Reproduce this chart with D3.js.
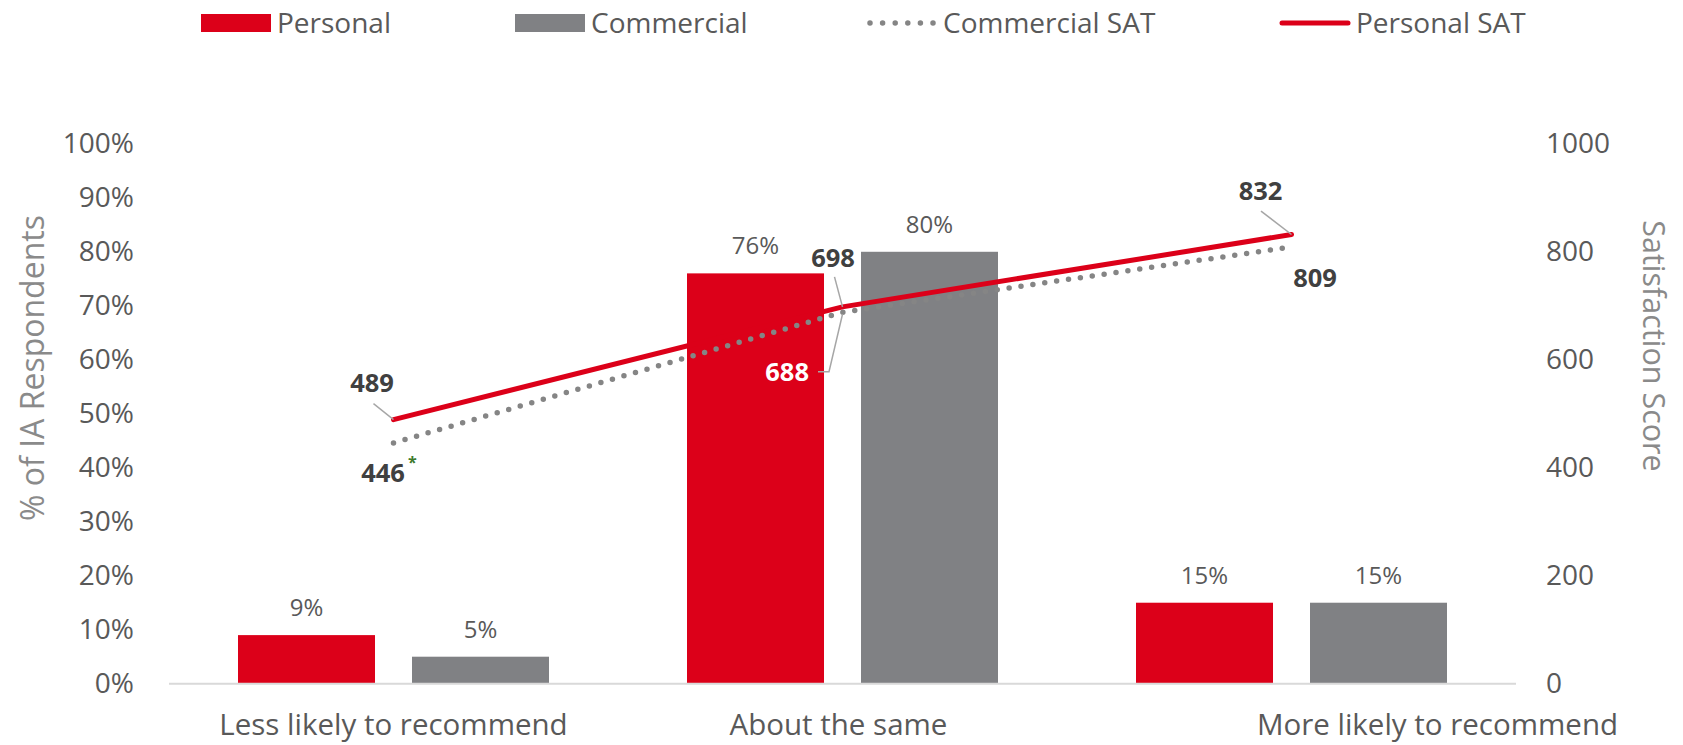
<!DOCTYPE html>
<html>
<head>
<meta charset="utf-8">
<script src="https://cdn.jsdelivr.net/npm/d3@7"></script>
<style>
  body { margin: 0; background: #fff; }
  text { font-family: "Open Sans", sans-serif; }
</style>
</head>
<body>
<svg id="chart" width="1683" height="745"></svg>
<script>
// ---- data ----
const categories = ["Less likely to recommend", "About the same", "More likely to recommend"];
const barSeries = ["Personal", "Commercial"];
const personalPct = [9, 76, 15];
const commercialPct = [5, 80, 15];
const personalSat = [489, 698, 832];
const commercialSat = [446, 688, 809];
const pctTicks = [0, 10, 20, 30, 40, 50, 60, 70, 80, 90, 100];
const satTicks = [0, 200, 400, 600, 800, 1000];

// ---- layout ----
const plot = { left: 169, right: 1516, top: 143.8, bottom: 683.7 };
const RED = "#dc0019", GRAY = "#808184", DOT = "#858585";
const TEXT = "#595959", DARK = "#404040", TITLE = "#8a8a8a";

const svg = d3.select("#chart");

const x0 = d3.scaleBand().domain(categories).range([plot.left, plot.right]);
const x1 = d3.scaleBand().domain(barSeries).range([0, x0.bandwidth()])
  .paddingInner(0.2126).paddingOuter(0.3966);
const yPct = d3.scaleLinear().domain([0, 100]).range([plot.bottom, plot.top]);
const ySat = d3.scaleLinear().domain([0, 1000]).range([plot.bottom, plot.top]);
const colors = d3.scaleOrdinal().domain(barSeries).range([RED, GRAY]);

const barData = categories.map((c, i) => ({
  cat: c,
  values: [
    { s: "Personal", v: personalPct[i] },
    { s: "Commercial", v: commercialPct[i] }
  ]
}));

// ---- axes ----
const leftAxis = svg.append("g")
  .attr("transform", `translate(${plot.left},0)`)
  .call(d3.axisLeft(yPct).tickValues(pctTicks).tickFormat(d => d + "%").tickSize(0).tickPadding(35));
leftAxis.select(".domain").remove();
leftAxis.selectAll("text").attr("font-size", 28).attr("fill", TEXT).style("font-family", '"Open Sans", sans-serif');

const rightAxis = svg.append("g")
  .attr("transform", `translate(${plot.right},0)`)
  .call(d3.axisRight(ySat).tickValues(satTicks).tickFormat(d3.format("d")).tickSize(0).tickPadding(30));
rightAxis.select(".domain").remove();
rightAxis.selectAll("text").attr("font-size", 28).attr("fill", TEXT).style("font-family", '"Open Sans", sans-serif');

// axis titles
svg.append("text")
  .attr("transform", "translate(44,368) rotate(-90)")
  .attr("text-anchor", "middle")
  .attr("font-size", 32).attr("fill", TITLE)
  .text("% of IA Respondents");

svg.append("text")
  .attr("transform", "translate(1643,346) rotate(90)")
  .attr("text-anchor", "middle")
  .attr("font-size", 30.5).attr("fill", TITLE)
  .text("Satisfaction Score");

// ---- bars ----
const groups = svg.append("g").selectAll("g")
  .data(barData).join("g")
  .attr("transform", d => `translate(${x0(d.cat)},0)`);

groups.selectAll("rect")
  .data(d => d.values).join("rect")
  .attr("x", d => x1(d.s))
  .attr("width", x1.bandwidth())
  .attr("y", d => yPct(d.v))
  .attr("height", d => yPct(0) - yPct(d.v))
  .attr("fill", d => colors(d.s));

groups.selectAll("text.val")
  .data(d => d.values).join("text")
  .attr("class", "val")
  .attr("x", d => x1(d.s) + x1.bandwidth() / 2)
  .attr("y", d => yPct(d.v) - 19)
  .attr("text-anchor", "middle")
  .attr("font-size", 24).attr("fill", TEXT)
  .text(d => d.v + "%");

// baseline
svg.append("line")
  .attr("x1", plot.left).attr("x2", plot.right)
  .attr("y1", yPct(0)).attr("y2", yPct(0))
  .attr("stroke", "#d9d9d9").attr("stroke-width", 2);

// category labels (last one sits shifted right)
const catShift = [0, -4, 146];
svg.append("g").selectAll("text")
  .data(categories).join("text")
  .attr("x", (d, i) => x0(d) + x0.bandwidth() / 2 + catShift[i])
  .attr("y", 735)
  .attr("text-anchor", "middle")
  .attr("font-size", 29.5).attr("fill", TEXT)
  .text(d => d);

// ---- satisfaction lines ----
const cx = d => x0(d) + x0.bandwidth() / 2;
const line = d3.line().x(d => cx(d.cat)).y(d => ySat(d.v));
const comm = categories.map((c, i) => ({ cat: c, v: commercialSat[i] }));
const pers = categories.map((c, i) => ({ cat: c, v: personalSat[i] }));

svg.append("path").datum(comm)
  .attr("d", line).attr("fill", "none")
  .attr("stroke", DOT).attr("stroke-width", 5.5)
  .attr("stroke-linecap", "round").attr("stroke-dasharray", "0 12");

svg.append("path").datum(pers)
  .attr("d", line).attr("fill", "none")
  .attr("stroke", RED).attr("stroke-width", 5)
  .attr("stroke-linecap", "round").attr("stroke-linejoin", "round");

// ---- SAT data labels with leader lines ----
const persLabel = [
  { dx: -21.5, dy: -28, leader: [[-20, -16], [0, 0]] },
  { dx: -9.5, dy: -40, leader: [[-8, -30], [0, 0]] },
  { dx: -31, dy: -35, leader: [[-30.5, -23.4], [0, 0]] }
];
const commLabel = [
  { dx: -10.5, dy: 39, leader: null, star: true },
  { dx: -33.5, dy: 68.5, anchor: "end", fill: "#ffffff", leader: [[-24.5, 59.5], [-13.5, 59.5], [0, 2]] },
  { dx: 23.5, dy: 40.5, leader: null }
];

const leaderLine = d3.line();
function drawLabels(pts, cfg, defaultFill) {
  pts.forEach((p, i) => {
    const px = cx(p.cat), py = ySat(p.v), c = cfg[i];
    if (c.leader) {
      svg.append("path")
        .attr("d", leaderLine(c.leader.map(([a, b]) => [px + a, py + b])))
        .attr("fill", "none").attr("stroke", "#a6a6a6").attr("stroke-width", 1.5);
    }
    svg.append("text")
      .attr("x", px + c.dx).attr("y", py + c.dy)
      .attr("text-anchor", c.anchor || "middle")
      .attr("font-size", 25.5).attr("font-weight", "bold")
      .attr("fill", c.fill || defaultFill)
      .text(p.v);
    if (c.star) {
      svg.append("text")
        .attr("x", px + c.dx + 25).attr("y", py + c.dy - 14)
        .attr("font-size", 16).attr("font-weight", "bold")
        .attr("fill", "#3d7a2b")
        .text("*");
    }
  });
}
drawLabels(pers, persLabel, DARK);
drawLabels(comm, commLabel, DARK);

// ---- legend ----
const legendItems = [
  { name: "Personal", type: "rect", color: RED, x: 201 },
  { name: "Commercial", type: "rect", color: GRAY, x: 515 },
  { name: "Commercial SAT", type: "dots", color: DOT, x: 867 },
  { name: "Personal SAT", type: "line", color: RED, x: 1280 }
];
const lg = svg.append("g").selectAll("g").data(legendItems).join("g")
  .attr("transform", d => `translate(${d.x},23)`);
lg.each(function (d) {
  const g = d3.select(this);
  if (d.type === "rect") {
    g.append("rect").attr("x", 0).attr("y", -9).attr("width", 70).attr("height", 18).attr("fill", d.color);
  } else if (d.type === "dots") {
    g.append("line").attr("x1", 3).attr("x2", 68).attr("y1", 0).attr("y2", 0)
      .attr("stroke", d.color).attr("stroke-width", 5.5)
      .attr("stroke-linecap", "round").attr("stroke-dasharray", "0 12.6");
  } else {
    g.append("line").attr("x1", 2).attr("x2", 68).attr("y1", 0).attr("y2", 0)
      .attr("stroke", d.color).attr("stroke-width", 5).attr("stroke-linecap", "round");
  }
  g.append("text").attr("x", 76).attr("y", 0).attr("dy", "0.35em")
    .attr("font-size", 28).attr("fill", TEXT).text(d.name);
});
</script>
</body>
</html>
